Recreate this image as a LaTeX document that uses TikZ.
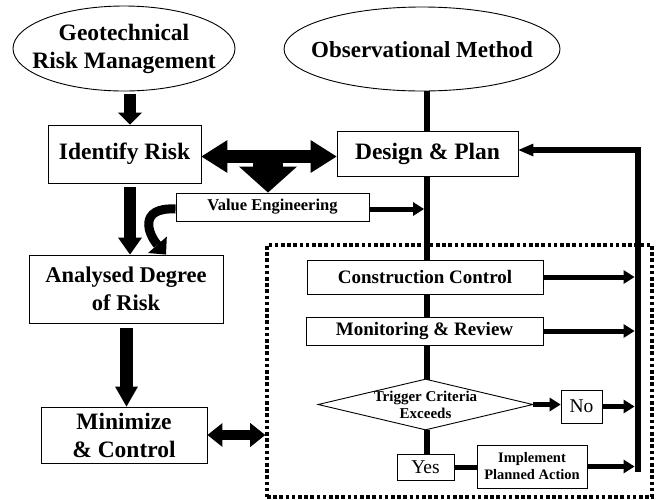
\documentclass[tikz,border=0pt]{standalone}
\usepackage{fontspec}
\setmainfont{Liberation Serif}
\usetikzlibrary{shapes.geometric,arrows.meta}
\begin{document}
\begin{tikzpicture}[x=1pt,y=-1pt,
  outl/.style={draw, line width=0.9pt, fill=white, inner sep=0pt},
  box/.style={outl, align=center, font=\bfseries\fontsize{23.5}{28}\selectfont},
  midbox/.style={outl, align=center, font=\bfseries\fontsize{19}{22}\selectfont},
  ellip/.style={outl, ellipse},
  bigtxt/.style={align=center, inner sep=0pt, font=\bfseries\fontsize{23.5}{28}\selectfont},
  mainline/.style={line width=6pt},
  arr/.style={line width=5pt, -{Triangle[length=11pt,width=14pt,line width=0pt]}},
  dotbox/.style={draw, line width=3.6pt, dash pattern=on 3.6pt off 2.6pt, inner sep=0pt}
]
\useasboundingbox (0,0) rectangle (663,499);
% coordinates
\coordinate (mx) at (427,0);
\coordinate (mxl) at (424,0);
\coordinate (busl) at (634.5,0);
\coordinate (bt) at (637.5,150);
\coordinate (bb) at (637.5,472);
\coordinate (dy) at (0,156.5);
\coordinate (ax) at (130,0);
\coordinate (ax2) at (126.5,0);
\coordinate (stem) at (268,156.5);
\coordinate (ctip) at (166,0);

% dotted frame
\node[dotbox, minimum width=385pt, minimum height=252pt] (obsbox) at (459.5,371) {};

% ellipses
\node[ellip, minimum width=222pt, minimum height=85pt] (geo) at (124,48.5) {};
\node[bigtxt] (geotxt) at (geo) {Geotechnical\\Risk Management};
\node[ellip, minimum width=276pt, minimum height=84pt] (obs) at (422,49) {};
\node[bigtxt, font=\bfseries\fontsize{23}{28}\selectfont] (obstxt) at (422,50) {Observational Method};

% left column
\node[box, minimum width=153pt, minimum height=58pt] (ident) at (124.5,154) {Identify Risk};
\node[box, minimum width=194pt, minimum height=68pt, font=\bfseries\fontsize{22.5}{28}\selectfont] (anal) at (126,289) {Analysed Degree\\of Risk};
\node[box, minimum width=166pt, minimum height=56pt] (mini) at (124,435) {Minimize\\\& Control};

% right column
\node[box, minimum width=181pt, minimum height=45pt] (design) at (427.5,153.5) {Design \& Plan};
\node[outl, font=\bfseries\fontsize{16.5}{20}\selectfont, minimum width=193pt, minimum height=28pt] (ve) at (272.5,207) {Value Engineering};

% main vertical line
\draw[mainline] (obs.south -| mx) -- (design.north -| mx);
\draw[mainline] (design.south -| mx) -- (445,260 -| mx);
\node[midbox, minimum width=236pt, minimum height=34pt] (cc) at (425,277) {Construction Control};
\draw[mainline] (cc.south -| mx) -- (424.5,317 -| mx);
\node[midbox, minimum width=237pt, minimum height=28pt] (mr) at (424.5,331) {Monitoring \& Review};
\draw[mainline] (mr.south -| mx) -- (427,380);
\node[outl, diamond, minimum width=215pt, minimum height=51pt] (dia) at (425.5,404.5) {};
\node[align=center, inner sep=0pt, font=\bfseries\fontsize{15}{16.5}\selectfont] (diatxt) at (425.5,405) {Trigger Criteria\\Exceeds};
\draw[mainline] (427,429.5) -- (427,455);
\node[outl, font=\fontsize{19.5}{22}\selectfont, minimum width=41pt, minimum height=33pt] (no) at (581.5,406.5) {No};
\node[outl, font=\fontsize{19.5}{22}\selectfont, minimum width=57pt, minimum height=26pt] (yes) at (425.5,467) {Yes};
\node[outl, align=center, font=\bfseries\fontsize{14.5}{17}\selectfont, minimum width=110pt, minimum height=43pt] (impl) at (532,466.5) {Implement\\Planned Action};

% big block arrows on the left
\draw[line width=12pt, -{Triangle[length=12pt,width=24pt,line width=0pt]}] (ax |- 0,94) -- (ident.north -| ax);
\draw[line width=12pt, -{Triangle[length=17pt,width=24pt,line width=0pt]}] (ax |- 0,187) -- (anal.north -| ax);
\draw[line width=13pt, -{Triangle[length=20pt,width=23pt,line width=0pt]}] (ax2 |- 0,328) -- (mini.north -| ax2);

% double arrow identify <-> design with a down stem
\draw[line width=30pt, -{Triangle[length=26pt,width=58pt,line width=0pt]}] (stem) -- (ve.north -| stem);
\draw[line width=13pt, {Triangle[length=26pt,width=33pt,line width=0pt]}-{Triangle[length=26pt,width=33pt,line width=0pt]}] (ident.east |- dy) -- (design.west |- dy);

% curved arrow from value engineering
\draw[line width=9pt, -{Triangle[length=13pt,width=25pt,line width=0pt]}] ([yshift=-2pt]ve.west) .. controls (138,207) and (148,234) .. (anal.north -| ctip);

% value engineering to main line
\draw[arr] ([yshift=-2pt]ve.east) -- ([yshift=-2pt]ve.east -| mxl);

% minimize <-> frame
\draw[line width=10pt, {Triangle[length=15pt,width=24pt,line width=0pt]}-{Triangle[length=15pt,width=24pt,line width=0pt]}] (mini.east) -- (mini.east -| obsbox.west);

% feedback bus
\draw[line width=6pt, miter limit=10, -{Triangle[length=15pt,width=13pt,line width=0pt]}] (bb) -- (bt) -- (bt -| design.east);
\draw[arr] (cc.east) -- (cc.east -| busl);
\draw[arr] (mr.east) -- (mr.east -| busl);
\draw[arr] (dia.east) -- (dia.east -| no.west);
\draw[arr] (no.east) -- (no.east -| busl);
\draw[arr] (impl.east) -- (impl.east -| busl);
\draw[line width=5pt] (yes.east) -- (impl.west |- yes.east);
\end{tikzpicture}
\end{document}
